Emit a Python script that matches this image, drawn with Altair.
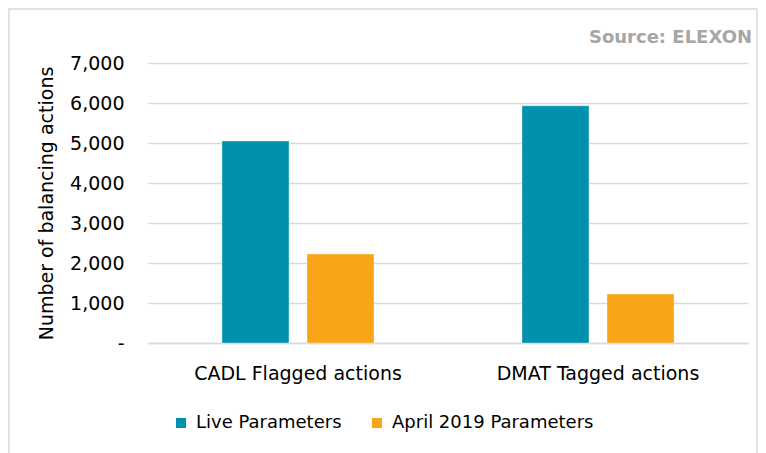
import altair as alt
import pandas as pd

categories = ["CADL Flagged actions", "DMAT Tagged actions"]
series = ["Live Parameters", "April 2019 Parameters"]
live_values = [5050, 5930]
april_values = [2225, 1225]
y_ticks = [0, 1000, 2000, 3000, 4000, 5000, 6000, 7000]
colors = ["#0091AE", "#F8A519"]
source_text = "Source: ELEXON"

rows = []
for i, c in enumerate(categories):
    rows.append({"category": c, "series": series[0], "value": live_values[i]})
    rows.append({"category": c, "series": series[1], "value": april_values[i]})
df = pd.DataFrame(rows)

FONT = "DejaVu Sans"
FS = 19

bars = alt.Chart(df).mark_bar(strokeWidth=1, strokeOpacity=0.35, stroke="white").encode(
    x=alt.X("category:N", sort=categories,
            scale=alt.Scale(paddingInner=0, paddingOuter=0),
            axis=alt.Axis(title=None, labelAngle=0, labelFontSize=FS, labelFont=FONT,
                          labelColor="#000000", labelPadding=21, ticks=False, labelLimit=0,
                          domain=True, domainColor="#d9d9d9", domainWidth=1.5)),
    xOffset=alt.XOffset("series:N", sort=series,
                        scale=alt.Scale(paddingInner=0.212, paddingOuter=0.87)),
    y=alt.Y("value:Q", scale=alt.Scale(domain=[0, 7000]),
            axis=alt.Axis(title="Number of balancing actions", values=y_ticks,
                          labelExpr="datum.value == 0 ? '-' : format(datum.value, ',')",
                          labelFontSize=FS, labelFont=FONT, labelColor="#000000",
                          labelPadding=24, ticks=False, domain=False, labelLimit=0,
                          grid=True, gridColor="#d9d9d9", gridWidth=1.5,
                          titleFontSize=FS, titleFont=FONT, titleFontWeight="normal",
                          titleColor="#000000", titlePadding=13, titleLimit=0)),
    color=alt.Color("series:N", sort=series,
                    scale=alt.Scale(domain=series, range=colors),
                    legend=alt.Legend(title=None, orient="none", legendX=24, legendY=351,
                                      direction="horizontal", symbolType="square",
                                      symbolSize=100, symbolStrokeWidth=0,
                                      labelFontSize=18, labelFont=FONT, labelLimit=0,
                                      labelColor="#000000", columnPadding=26,
                                      labelOffset=6)),
)

border = alt.Chart(pd.DataFrame({"d": [0]})).mark_rect(
    fill=None, stroke="#d9d9d9", strokeWidth=1.5
).encode(
    x=alt.value(-139), x2=alt.value(609), y=alt.value(-54), y2=alt.value(420)
)

source = alt.Chart(pd.DataFrame({"t": [source_text]})).mark_text(
    align="right", baseline="alphabetic", fontSize=18, fontWeight="bold",
    font=FONT, color="#a6a6a6"
).encode(
    x=alt.value(604), y=alt.value(-20), text="t:N"
)

chart = alt.layer(border, bars, source).properties(
    width=600, height=280,
    padding={"left": 140, "top": 55, "right": 10, "bottom": 110},
    autosize=alt.AutoSizeParams(type="none"),
).configure_view(stroke=None)

chart.save("out.html", embed_options={"renderer": "svg", "actions": False})
